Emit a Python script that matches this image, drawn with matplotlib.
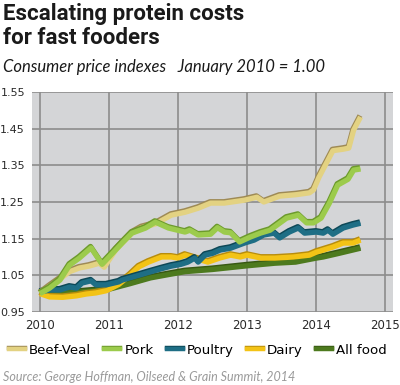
import matplotlib
matplotlib.use("Agg")
import matplotlib.pyplot as plt
import matplotlib.patheffects as pe
from matplotlib.lines import Line2D

# values (year fraction, index Jan 2010 = 1.00)
beef_t = [2010.00, 2010.14, 2010.29, 2010.43, 2010.57, 2010.71, 2010.86, 2010.93, 2011.10, 2011.33,
          2011.47, 2011.67, 2011.90, 2012.10, 2012.29, 2012.47, 2012.67, 2012.96, 2013.14, 2013.24,
          2013.47, 2013.71, 2013.90, 2013.96, 2014.04, 2014.24, 2014.39, 2014.47, 2014.54, 2014.64]
beef_v = [1.000, 1.020, 1.040, 1.060, 1.070, 1.075, 1.083, 1.072, 1.120, 1.165,
          1.180, 1.190, 1.214, 1.222, 1.233, 1.247, 1.247, 1.255, 1.263, 1.250,
          1.266, 1.270, 1.275, 1.283, 1.318, 1.390, 1.394, 1.397, 1.446, 1.482]

pork_t = [2010.00, 2010.14, 2010.29, 2010.43, 2010.57, 2010.74, 2010.90, 2011.10, 2011.19, 2011.33,
          2011.53, 2011.67, 2011.86, 2012.10, 2012.17, 2012.29, 2012.47, 2012.57, 2012.67, 2012.76,
          2012.89, 2013.04, 2013.19, 2013.33, 2013.57, 2013.74, 2013.86, 2013.96, 2014.07, 2014.19,
          2014.31, 2014.46, 2014.54, 2014.64]
pork_v = [1.000, 1.015, 1.037, 1.078, 1.097, 1.125, 1.080, 1.120, 1.138, 1.165,
          1.179, 1.195, 1.179, 1.168, 1.173, 1.160, 1.162, 1.180, 1.168, 1.166,
          1.141, 1.154, 1.165, 1.173, 1.206, 1.214, 1.193, 1.193, 1.206, 1.247,
          1.296, 1.312, 1.337, 1.340]

poultry_t = [2010.00, 2010.14, 2010.29, 2010.43, 2010.53, 2010.61, 2010.74, 2010.81, 2010.96, 2011.14,
             2011.19, 2011.43, 2011.61, 2011.76, 2011.90, 2012.04, 2012.14, 2012.24, 2012.29, 2012.39,
             2012.50, 2012.61, 2012.76, 2012.96, 2013.10, 2013.24, 2013.39, 2013.47, 2013.61, 2013.74,
             2013.83, 2014.00, 2014.10, 2014.17, 2014.24, 2014.39, 2014.53, 2014.64]
poultry_v = [1.004, 1.010, 1.010, 1.018, 1.015, 1.029, 1.035, 1.024, 1.024, 1.032,
             1.037, 1.050, 1.060, 1.068, 1.075, 1.080, 1.086, 1.097, 1.086, 1.105,
             1.110, 1.119, 1.124, 1.138, 1.146, 1.160, 1.165, 1.152, 1.168, 1.179,
             1.165, 1.168, 1.165, 1.173, 1.162, 1.179, 1.187, 1.192]

dairy_t = [2010.00, 2010.14, 2010.33, 2010.53, 2010.67, 2010.81, 2010.96, 2011.14, 2011.30, 2011.43,
           2011.57, 2011.76, 2011.90, 2012.00, 2012.10, 2012.24, 2012.43, 2012.60, 2012.76, 2012.90,
           2013.00, 2013.20, 2013.40, 2013.67, 2013.90, 2014.00, 2014.24, 2014.39, 2014.53, 2014.64]
dairy_v = [1.000, 0.991, 0.990, 0.994, 0.999, 1.002, 1.008, 1.025, 1.050, 1.073,
           1.086, 1.100, 1.100, 1.097, 1.105, 1.097, 1.086, 1.097, 1.105, 1.100,
           1.105, 1.097, 1.097, 1.100, 1.105, 1.113, 1.127, 1.138, 1.138, 1.146]

food_t = [2010.00, 2010.14, 2010.50, 2010.80, 2011.00, 2011.30, 2011.60, 2011.86, 2012.10, 2012.50,
          2013.00, 2013.40, 2013.70, 2014.00, 2014.10, 2014.33, 2014.64]
food_v = [1.003, 1.000, 1.003, 1.008, 1.012, 1.027, 1.043, 1.052, 1.060, 1.066,
          1.076, 1.083, 1.086, 1.097, 1.100, 1.110, 1.124]

names = ["Beef-Veal", "Pork", "Poultry", "Dairy", "All food"]
yticks = [0.95, 1.05, 1.15, 1.25, 1.35, 1.45, 1.55]
xticks = [2010, 2011, 2012, 2013, 2014, 2015]

series = {
    "Beef-Veal": (beef_t, beef_v, "#e3d282", "#9e8a55"),
    "Pork": (pork_t, pork_v, "#9ccb4c", "#6c9a2c"),
    "Poultry": (poultry_t, poultry_v, "#1e6e85", "#0d4857"),
    "Dairy": (dairy_t, dairy_v, "#f3c316", "#b88d0c"),
    "All food": (food_t, food_v, "#4d7a1e", "#385913"),
}
draw_order = ["All food", "Dairy", "Poultry", "Beef-Veal", "Pork"]

fig = plt.figure(figsize=(4.0, 3.85), dpi=100)
fig.patch.set_facecolor("white")
ax = fig.add_axes([0.08, 0.1896, 0.9025, 0.5714])
ax.set_facecolor("#d4d5d7")

lw = 3.8
for name in draw_order:
    t, v, c, dark = series[name]
    ax.plot(t, v, color=c, lw=lw, solid_capstyle="butt", solid_joinstyle="round", zorder=3,
            path_effects=[pe.Stroke(linewidth=lw, foreground=dark, offset=(-0.4, 1.0)),
                          pe.Normal()])

ax.set_xlim(2009.885, 2015.11)
ax.set_ylim(0.95, 1.55)
ax.set_xticks(xticks)
ax.set_yticks(yticks)
ax.set_yticklabels([f"{y:.2f}" for y in yticks])
ax.grid(True, color="#8c8c8c", lw=1.2, zorder=1)
ax.set_axisbelow(True)
for s in ax.spines.values():
    s.set_visible(False)
ax.tick_params(length=0, labelsize=8, labelcolor="#2a2a2a")
ax.tick_params(axis="y", pad=5)
ax.tick_params(axis="x", labelsize=8.5, pad=5)

handles = [Line2D([0], [0], color=series[n][2], lw=3.2,
                  path_effects=[pe.Stroke(linewidth=3.2, foreground=series[n][3], offset=(-0.3, 0.8)),
                                pe.Normal()])
           for n in names]
fig.legend(handles, names, loc="center", bbox_to_anchor=(0.495, 0.09), ncol=5, frameon=False,
           fontsize=9.6, handlelength=1.2, handletextpad=0.3, columnspacing=1.0)

fig.text(0.008, 0.963, "Escalating protein costs", fontsize=16, fontweight="bold",
         family="Roboto", va="center", ha="left", color="#1a1a1a")
fig.text(0.008, 0.900, "for fast fooders", fontsize=16, fontweight="bold",
         family="Roboto", va="center", ha="left", color="#1a1a1a")
fig.text(0.008, 0.826, "Consumer price indexes   January 2010 = 1.00", fontsize=12,
         style="italic", family="Lato", va="center", ha="left", color="#1a1a1a")
fig.text(0.008, 0.021, "Source: George Hoffman, Oilseed & Grain Summit, 2014", fontsize=9,
         style="italic", family="Lato", va="center", ha="left", color="#9a9a9a")

fig.savefig("out.png", dpi=100)
